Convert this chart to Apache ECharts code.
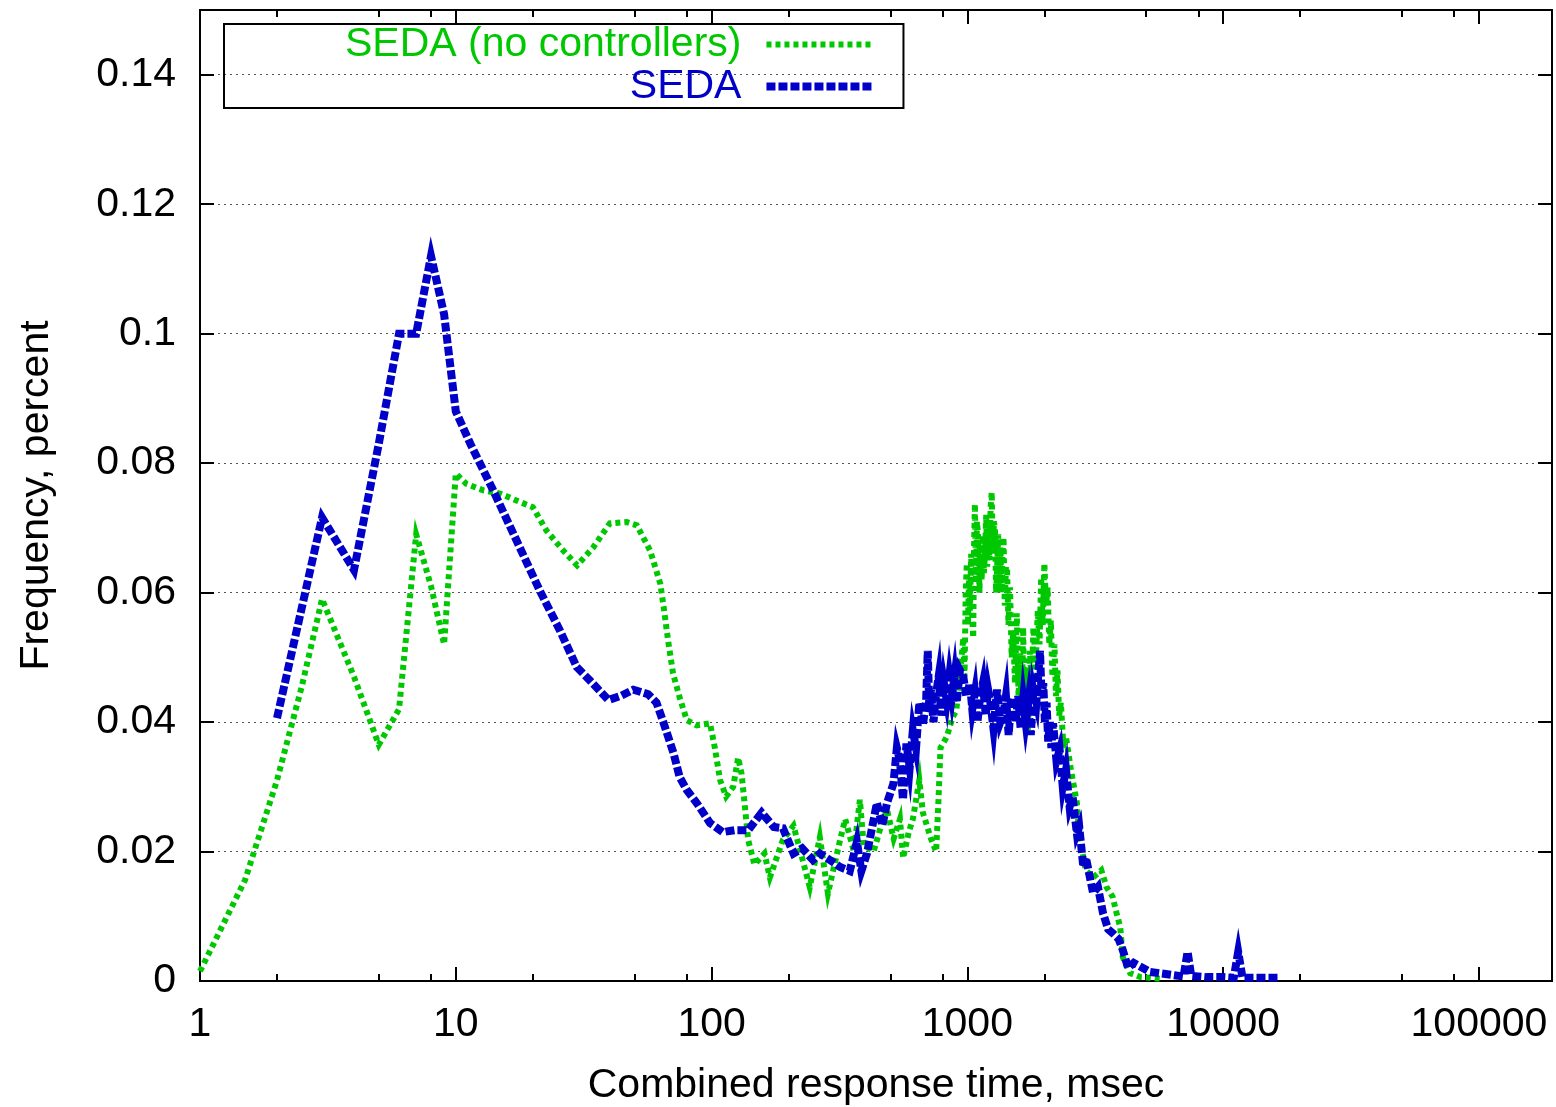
<!DOCTYPE html>
<html>
<head>
<meta charset="utf-8">
<title>Combined response time</title>
<script src="https://cdn.jsdelivr.net/npm/echarts@6/dist/echarts.min.js"></script>
<style>
html, body { margin: 0; padding: 0; background: #fff; }
#chart { width: 1556px; height: 1107px; }
</style>
</head>
<body>
<div id="chart"></div>
<script>
// SEDA (no controllers): [response time msec, frequency]
var noCtrlPoints = [
    [1, 0.0015], [1.5, 0.0156], [2, 0.031], [2.5, 0.0455], [3, 0.059], [4, 0.047], [5, 0.0365], [6, 0.042], [7, 0.069], [8, 0.061],
    [9, 0.052], [10, 0.0784], [11, 0.0768], [12.8, 0.0758], [14.9, 0.0753], [17.8, 0.074], [20, 0.0732], [22.6, 0.0696], [26.3, 0.0665], [29.8, 0.0642],
    [34.5, 0.067], [40, 0.0707], [46.6, 0.0709], [51, 0.0704], [57.5, 0.0665], [63, 0.0614], [65, 0.0577], [67.6, 0.0526], [70.7, 0.0475], [75, 0.0438],
    [80, 0.0403], [87.5, 0.0395], [98.6, 0.0398], [103, 0.036], [108, 0.031], [114, 0.0285], [121.5, 0.030], [127, 0.0345], [131, 0.032], [135, 0.0269],
    [139, 0.0218], [147, 0.018], [161, 0.0197], [169, 0.016], [190, 0.0218], [209, 0.024], [226, 0.019], [242, 0.0145], [265, 0.0222], [285, 0.0135],
    [318, 0.0218], [333, 0.025], [360, 0.020], [380, 0.028], [393, 0.021], [430, 0.020], [460, 0.024], [485, 0.0265], [515, 0.022], [545, 0.025],
    [561, 0.019], [590, 0.023], [612, 0.025], [649, 0.031], [670, 0.026], [690, 0.0244], [720, 0.022], [755, 0.020], [770, 0.0274], [785, 0.036],
    [830, 0.0377], [875, 0.0407], [905, 0.0418], [935, 0.047], [964, 0.053], [975, 0.047], [985, 0.060], [995, 0.0645], [1005, 0.055], [1015, 0.062],
    [1023, 0.0572], [1035, 0.066], [1045, 0.056], [1054, 0.053], [1062, 0.067], [1070, 0.0737], [1080, 0.062], [1090, 0.071], [1103, 0.0685], [1115, 0.060],
    [1125, 0.068], [1137, 0.0619], [1150, 0.069], [1160, 0.063], [1172, 0.066], [1185, 0.072], [1195, 0.064], [1208, 0.0706], [1220, 0.065], [1232, 0.073],
    [1245, 0.0755], [1258, 0.066], [1270, 0.071], [1283, 0.0696], [1295, 0.060], [1306, 0.0634], [1320, 0.069], [1333, 0.061], [1346, 0.067], [1360, 0.060],
    [1372, 0.066], [1385, 0.0685], [1400, 0.058], [1415, 0.064], [1430, 0.0634], [1448, 0.055], [1468, 0.0608], [1490, 0.050], [1510, 0.054], [1535, 0.046],
    [1560, 0.0568], [1585, 0.044], [1610, 0.0506], [1630, 0.042], [1652, 0.0546], [1675, 0.040], [1700, 0.048], [1725, 0.038], [1755, 0.051], [1785, 0.045],
    [1812, 0.0546], [1850, 0.049], [1885, 0.0572], [1915, 0.052], [1943, 0.0623], [1970, 0.055], [2000, 0.0645], [2030, 0.058], [2060, 0.0608], [2090, 0.052],
    [2120, 0.0557], [2150, 0.047], [2190, 0.052], [2220, 0.044], [2250, 0.048], [2285, 0.041], [2320, 0.043], [2375, 0.036], [2430, 0.0377], [2540, 0.0326],
    [2680, 0.0275], [2740, 0.0222], [2906, 0.0171], [3100, 0.016], [3340, 0.0171], [3500, 0.0145], [3700, 0.013], [3800, 0.011], [3960, 0.0083], [4050, 0.0037],
    [4330, 0.0012], [4750, 0.0006], [5200, 0.0005], [5800, 0.0003]
];

// SEDA: [response time msec, frequency]
var sedaPoints = [
    [2, 0.0406], [3, 0.0716], [4, 0.0635], [5, 0.083], [6, 0.100], [7, 0.100], [8, 0.112], [9, 0.103], [10, 0.088], [11.4, 0.083],
    [14, 0.0758], [17.3, 0.068], [21.3, 0.0603], [25.5, 0.0542], [29.7, 0.0485], [33.5, 0.0464], [39.5, 0.0434], [44.5, 0.0441], [49.5, 0.045], [56.5, 0.0443],
    [60.9, 0.043], [65, 0.0398], [71, 0.0352], [75, 0.0315], [80, 0.0295], [87.5, 0.0275], [98.6, 0.0244], [110.6, 0.023], [123, 0.0233], [139, 0.0233],
    [157, 0.026], [175, 0.0238], [190, 0.0236], [209, 0.0197], [226, 0.0205], [249, 0.0187], [265, 0.0197], [290, 0.0187], [318, 0.0176], [347, 0.017],
    [370, 0.0215], [385, 0.017], [405, 0.0197], [443, 0.0275], [465, 0.024], [485, 0.0275], [514, 0.0305], [530, 0.036], [545, 0.034], [560, 0.028],
    [578, 0.0367], [595, 0.033], [612, 0.0387], [630, 0.036], [649, 0.043], [670, 0.0395], [690, 0.0434], [700, 0.051], [710, 0.042], [720, 0.045],
    [737, 0.040], [755, 0.0444], [772, 0.047], [790, 0.041], [810, 0.046], [830, 0.0434], [850, 0.047], [870, 0.044], [890, 0.047], [908, 0.043],
    [935, 0.048], [964, 0.047], [990, 0.044], [1023, 0.046], [1045, 0.042], [1070, 0.0445], [1095, 0.040], [1121, 0.0438], [1150, 0.046], [1180, 0.041],
    [1205, 0.045], [1231, 0.0429], [1265, 0.039], [1306, 0.045], [1345, 0.040], [1385, 0.0414], [1415, 0.044], [1450, 0.038], [1480, 0.043], [1510, 0.0438],
    [1545, 0.040], [1580, 0.044], [1615, 0.039], [1652, 0.0434], [1690, 0.040], [1730, 0.043], [1770, 0.038], [1812, 0.045], [1860, 0.043], [1923, 0.051],
    [1950, 0.044], [1980, 0.046], [2010, 0.040], [2040, 0.043], [2070, 0.037], [2100, 0.040], [2130, 0.036], [2163, 0.0398], [2230, 0.034], [2295, 0.0357],
    [2360, 0.030], [2430, 0.0326], [2510, 0.0269], [2580, 0.0284], [2680, 0.0228], [2738, 0.0238], [2840, 0.0176], [2906, 0.0191], [3100, 0.0136], [3240, 0.0145],
    [3390, 0.0105], [3550, 0.008], [3700, 0.0074], [3900, 0.0065], [4050, 0.0048], [4250, 0.002], [4470, 0.0028], [5180, 0.0014], [6420, 0.0009], [7000, 0.0007],
    [7260, 0.0045], [7500, 0.0008], [8620, 0.0006], [10000, 0.0006], [11000, 0.0005], [11450, 0.0045], [11900, 0.0005], [13100, 0.0005], [16500, 0.0005]
];

var xMajorTicks = [1, 10, 100, 1000, 10000, 100000];
var xMinorTicks = [2, 5, 8, 20, 50, 80, 200, 500, 800, 2000, 5000, 8000, 20000, 50000, 80000];
var yTicks = [0, 0.02, 0.04, 0.06, 0.08, 0.1, 0.12, 0.14];

var FONT = '"Liberation Sans", Arial, Helvetica, sans-serif';
var GREEN = '#00c800';
var BLUE = '#0000c8';

var myChart = echarts.init(document.getElementById('chart'));

function xAxisOf(position, ticks, tickLen, withLabels) {
    return {
        type: 'log',
        logBase: 10,
        min: 1,
        max: 193000,
        position: position,
        axisLine: { show: true, onZero: false, lineStyle: { color: '#000', width: 2 } },
        axisTick: { show: true, inside: true, length: tickLen, customValues: ticks, lineStyle: { color: '#000', width: 2 } },
        axisLabel: withLabels ? {
            show: true, customValues: ticks, margin: 23, color: '#000', fontSize: 41, fontFamily: FONT,
            formatter: function (v) { return String(Math.round(v)); }
        } : { show: false },
        splitLine: { show: false },
        minorTick: { show: false },
        name: withLabels ? 'Combined response time, msec' : '',
        nameLocation: 'middle',
        nameGap: 84,
        nameTextStyle: { color: '#000', fontSize: 41, fontFamily: FONT }
    };
}

function yAxisOf(position, withLabels) {
    return {
        type: 'value',
        min: 0,
        max: 0.15,
        position: position,
        axisLine: { show: true, onZero: false, lineStyle: { color: '#000', width: 2 } },
        axisTick: { show: true, inside: true, length: 14, customValues: yTicks, lineStyle: { color: '#000', width: 2 } },
        axisLabel: withLabels ? {
            show: true, customValues: yTicks, margin: 24, color: '#000', fontSize: 41, fontFamily: FONT,
            formatter: function (v) { return String(v); }
        } : { show: false },
        splitLine: withLabels ? { show: true, lineStyle: { color: '#555', width: 1, type: [2, 4] } } : { show: false },
        name: withLabels ? 'Frequency, percent' : '',
        nameLocation: 'middle',
        nameGap: 143,
        nameTextStyle: { color: '#000', fontSize: 41, fontFamily: FONT }
    };
}

var option = {
    backgroundColor: '#fff',
    animation: false,
    grid: { left: 200, right: 4, top: 10, bottom: 126, containLabel: false, outerBoundsMode: 'none' },
    legend: {
        orient: 'vertical',
        align: 'right',
        left: 224,
        top: 24,
        padding: [0, 26, 1, 121],
        itemGap: 1,
        itemWidth: 107,
        itemHeight: 14,
        borderColor: '#000',
        borderWidth: 2,
        selectedMode: false,
        itemStyle: { color: 'rgba(0,0,0,0)', borderWidth: 0, opacity: 0 },
        textStyle: { fontSize: 41, fontFamily: FONT, lineHeight: 40, padding: [0, 20, 0, 0] },
        data: [
            { name: 'SEDA (no controllers)', textStyle: { color: GREEN }, lineStyle: { color: GREEN, width: 6, type: [5, 4] } },
            { name: 'SEDA', textStyle: { color: BLUE }, lineStyle: { color: BLUE, width: 8, type: [9, 3] } }
        ]
    },
    xAxis: [
        xAxisOf('bottom', xMajorTicks, 14, true),
        xAxisOf('bottom', xMinorTicks, 7, false),
        xAxisOf('top', xMajorTicks, 14, false),
        xAxisOf('top', xMinorTicks, 7, false)
    ],
    yAxis: [
        yAxisOf('left', true),
        yAxisOf('right', false)
    ],
    series: [
        {
            name: 'SEDA (no controllers)',
            type: 'line',
            symbol: 'none',
            showSymbol: false,
            color: GREEN,
            lineStyle: { color: GREEN, width: 6, type: [5, 4], cap: 'butt', join: 'miter', miterLimit: 10 },
            data: noCtrlPoints
        },
        {
            name: 'SEDA',
            type: 'line',
            symbol: 'none',
            showSymbol: false,
            color: BLUE,
            lineStyle: { color: BLUE, width: 8, type: [9, 3], cap: 'butt', join: 'miter', miterLimit: 10 },
            data: sedaPoints
        }
    ]
};

myChart.setOption(option);
window.addEventListener('resize', function () {
    myChart.resize();
});
</script>
</body>
</html>
